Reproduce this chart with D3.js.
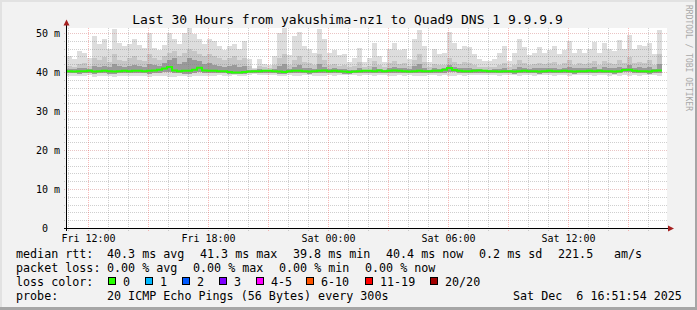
<!DOCTYPE html>
<html><head><meta charset="utf-8">
<script src="https://cdn.jsdelivr.net/npm/d3@7"></script>
<style>
html,body{margin:0;padding:0;background:#f2f2f2;}
svg{display:block;}
text{font-family:"DejaVu Sans Mono",monospace;white-space:pre;}
</style></head><body>
<svg id="c" width="697" height="310" xml:space="preserve"></svg>
<script>
const title = "Last 30 Hours from yakushima-nz1 to Quad9 DNS 1 9.9.9.9";
const startTime = new Date(2025, 11, 5, 10, 56);
const endTime = new Date(2025, 11, 6, 16, 56);
const stepMinutes = 15;
const yTicks = [0, 10, 20, 30, 40, 50];

// median rtt (ms) per 15-minute column
const median = [
 40.2,40.1,40.2,40.2,40.3,40.1,40.2,40.3,40.2,40.1,
 40.2,40.3,40.2,40.3,40.3,40.2,40.3,40.4,40.6,40.9,
 41.3,40.4,40.2,40.3,40.3,40.6,41.1,40.4,40.3,40.3,
 40.2,40.2,40.0,39.9,39.9,40.0,40.1,40.2,40.2,40.3,
 40.3,40.2,40.1,40.0,40.2,40.3,40.3,40.2,40.1,40.2,
 40.3,40.4,40.2,40.3,40.2,40.1,40.0,40.1,40.2,40.3,
 40.3,40.2,40.4,40.2,40.3,40.4,40.3,40.2,40.1,40.2,
 40.3,40.2,40.2,40.3,40.3,40.6,41.0,40.5,40.3,40.2,
 40.2,40.3,40.4,40.3,40.2,40.2,40.1,40.2,40.2,40.1,
 40.2,40.3,40.2,40.2,40.1,40.2,40.3,40.2,40.2,40.3,
 40.2,40.1,40.2,40.2,40.3,40.2,40.3,40.2,40.2,40.1,
 40.2,40.5,40.6,40.3,40.2,40.2,40.1,40.3,40.4
];
// slowest ping
const pMax = [
 44.1,43.3,45.4,44.9,43.6,49.2,47.2,48.4,45.8,51.0,
 47.5,46.6,47.2,48.4,47.0,46.2,50.1,46.2,45.7,47.0,
 50.0,48.4,47.2,50.0,51.3,49.7,48.4,47.2,48.5,48.0,
 46.7,45.6,46.7,47.2,45.9,48.0,43.3,41.1,43.3,42.1,
 41.7,44.0,50.0,51.2,44.3,49.3,50.3,46.6,45.9,44.8,
 51.0,48.4,44.8,45.6,44.3,44.6,42.5,43.6,46.2,42.5,
 43.6,47.5,44.2,42.5,45.9,47.5,45.6,45.9,43.3,48.4,
 50.8,46.6,42.5,45.9,44.6,45.0,50.3,47.5,45.9,46.6,
 46.3,44.6,43.3,42.8,42.9,43.3,45.0,46.6,42.9,45.0,
 48.4,46.3,44.3,45.0,46.3,45.0,45.6,46.6,44.6,45.6,
 48.0,45.0,45.9,45.0,45.9,47.8,45.0,47.5,46.0,45.5,
 48.2,46.0,49.5,46.0,47.0,46.6,47.5,44.5,50.8
];
// ~90th percentile ping
const p90 = [
 41.5,41.3,42.0,42.2,41.6,43.5,43.0,43.8,42.5,44.5,
 43.0,42.8,43.5,44.0,43.2,42.8,44.5,43.5,43.0,44.0,
 45.0,45.5,44.0,45.0,46.0,45.5,44.5,44.0,44.5,44.0,
 43.5,43.0,43.5,44.0,43.0,43.5,41.5,40.8,41.6,41.2,
 41.0,41.8,43.5,44.5,41.8,43.0,44.0,42.5,42.2,41.8,
 44.5,43.0,41.8,42.0,41.6,41.8,41.2,41.5,42.5,41.2,
 41.5,42.8,41.7,41.2,42.2,42.8,42.0,42.2,41.5,43.2,
 44.5,42.5,41.2,42.0,41.8,41.8,43.5,42.5,42.0,42.5,
 42.3,41.8,41.4,41.3,41.3,41.4,41.8,42.3,41.3,41.8,
 43.0,42.3,41.7,42.0,42.4,42.0,42.2,42.5,41.8,42.2,
 43.0,41.9,42.3,42.0,42.3,42.8,41.9,42.8,42.2,42.0,
 43.0,42.2,43.8,42.2,42.6,42.4,43.0,41.8,44.5
];
// ~75th percentile ping
const p75 = [
 40.8,40.7,41.0,41.0,40.8,41.5,41.3,41.6,41.2,42.0,
 41.5,41.3,41.6,41.8,41.5,41.3,42.0,41.8,41.6,42.2,
 43.0,43.5,42.0,42.5,43.5,43.0,42.8,42.0,42.2,41.8,
 41.6,41.3,41.5,41.7,41.2,41.5,40.6,40.4,40.7,40.5,
 40.5,40.8,41.5,42.0,40.8,41.3,41.8,41.0,40.9,40.8,
 42.0,41.3,40.8,40.9,40.7,40.8,40.5,40.6,41.0,40.5,
 40.6,41.2,40.8,40.6,40.9,41.3,41.0,41.0,40.7,41.5,
 42.0,41.1,40.6,41.0,40.8,40.9,41.8,41.4,41.0,41.1,
 41.0,40.8,40.7,40.6,40.6,40.7,40.8,41.0,40.6,40.8,
 41.3,41.0,40.8,40.9,41.0,40.9,41.0,41.1,40.8,41.0,
 41.4,40.9,41.0,40.9,41.0,41.2,40.8,41.2,41.0,40.9,
 41.3,41.0,41.8,41.0,41.2,41.1,41.4,40.8,42.0
];
// ~25th percentile ping
const pLow = [
 39.7,39.7,39.6,39.7,39.8,39.6,39.7,39.8,39.6,39.6,
 39.7,39.8,39.7,39.7,39.8,39.7,39.6,39.8,39.8,39.9,
 40.0,39.7,39.7,39.6,39.6,39.8,39.9,39.8,39.7,39.8,
 39.7,39.7,39.6,39.5,39.5,39.6,39.7,39.8,39.8,39.8,
 39.8,39.7,39.6,39.5,39.7,39.7,39.8,39.7,39.6,39.7,
 39.7,39.8,39.7,39.8,39.7,39.6,39.6,39.7,39.7,39.8,
 39.8,39.7,39.8,39.7,39.8,39.8,39.8,39.7,39.7,39.7,
 39.8,39.7,39.7,39.8,39.7,39.8,39.9,39.9,39.8,39.7,
 39.7,39.7,39.8,39.8,39.8,39.7,39.7,39.7,39.7,39.6,
 39.7,39.8,39.7,39.7,39.6,39.7,39.8,39.7,39.7,39.8,
 39.7,39.6,39.7,39.7,39.8,39.7,39.8,39.7,39.7,39.6,
 39.7,39.9,39.9,39.8,39.7,39.7,39.6,39.8,39.8
];
// fastest ping
const pMin = [
 39.1,39.0,38.9,39.1,39.2,38.8,39.0,39.1,38.9,38.8,
 39.0,39.1,38.9,39.0,39.1,39.0,38.8,39.0,39.1,38.9,
 38.7,38.8,39.0,38.9,38.8,38.9,39.0,39.1,39.0,39.1,
 39.2,39.1,39.0,39.2,39.1,39.0,39.3,39.4,39.3,39.2,
 39.3,39.2,39.0,38.9,39.2,39.0,39.1,39.2,39.3,39.1,
 38.9,39.0,39.2,39.1,39.3,39.2,39.3,39.2,39.0,39.3,
 39.2,39.1,39.3,39.2,39.1,39.0,39.2,39.1,39.3,39.0,
 38.9,39.1,39.3,39.2,39.1,39.2,39.0,39.1,39.2,39.1,
 39.2,39.3,39.2,39.3,39.2,39.3,39.1,39.2,39.3,39.2,
 39.0,39.2,39.3,39.1,39.2,39.3,39.2,39.1,39.3,39.2,
 39.1,39.3,39.2,39.3,39.2,39.1,39.3,39.2,39.1,39.2,
 39.1,39.2,39.0,39.2,39.1,39.3,39.2,39.3,39.0
];

const legendRtt = ["median rtt:", "40.3 ms avg", "41.3 ms max", "39.8 ms min", "40.4 ms now", "0.2 ms sd", "221.5", "am/s"];
const legendLoss = ["packet loss:", "0.00 % avg", "0.00 % max", "0.00 % min", "0.00 % now"];
const lossLabels = ["0", "1", "2", "3", "4-5", "6-10", "11-19", "20/20"];
const lossColors = ["#26ff00", "#00b8ff", "#0059ff", "#7e00ff", "#ff00ff", "#ff5500", "#ff0000", "#a10000"];
const probeText = ["probe:", "20 ICMP Echo Pings (56 Bytes) every 300s", "Sat Dec  6 16:51:54 2025"];
const watermark = "RRDTOOL / TOBI OETIKER";

const svg = d3.select("#c");
const W = 697, H = 310;
const L = 67, R = 667, T = 28, B = 228;

// background and 3D border
svg.append("rect").attr("width", W).attr("height", H).attr("fill", "#f2f2f2");
svg.append("rect").attr("x",0).attr("y",0).attr("width",W).attr("height",2).attr("fill","#e2e2e2");
svg.append("rect").attr("x",0).attr("y",0).attr("width",2).attr("height",H).attr("fill","#e2e2e2");
svg.append("rect").attr("x",0).attr("y",H-3).attr("width",W).attr("height",3).attr("fill","#a6a6a6");
svg.append("rect").attr("x",W-2).attr("y",0).attr("width",2).attr("height",H).attr("fill","#a6a6a6");

const x = d3.scaleTime().domain([startTime, endTime]).range([L, R]);
const y = d3.scaleLinear().domain([0, 200/3.9]).range([B, T]);

svg.append("rect").attr("x", L).attr("y", T).attr("width", R - L).attr("height", B - T).attr("fill", "#ffffff");

const colTime = k => new Date(+startTime + k * stepMinutes * 60000);

// smoke
const bands = [
  {lo: pMin, hi: pMax, color: "#dddddd"},
  {lo: pLow, hi: p90, color: "#c6c6c6"},
  {lo: pLow, hi: p75, color: "#9a9a9a"}
];
const gSmoke = svg.append("g").attr("shape-rendering", "crispEdges");
bands.forEach(b => {
  gSmoke.selectAll(null).data(median.map((m, k) => k)).enter().append("rect")
    .attr("x", k => x(colTime(k)))
    .attr("width", k => x(colTime(k + 1)) - x(colTime(k)))
    .attr("y", k => y(b.hi[k]))
    .attr("height", k => y(b.lo[k]) - y(b.hi[k]))
    .attr("fill", b.color);
});

// grid
const gGrid = svg.append("g").attr("shape-rendering", "crispEdges");
const minorCol = "rgba(128,128,128,0.38)", majorCol = "rgba(240,70,70,0.38)";
d3.range(2, 51, 2).forEach(v => {
  const yy = Math.round(y(v)) + 0.5;
  gGrid.append("line").attr("x1", 64).attr("x2", R).attr("y1", yy).attr("y2", yy)
    .attr("stroke", v % 10 === 0 ? "rgba(200,100,100,0.38)" : minorCol).attr("stroke-dasharray", "1,1");
});
d3.timeHour.range(startTime, endTime).forEach(t => {
  const xx = Math.round(x(t)) + 0.5;
  const major = t.getHours() % 3 === 0;
  gGrid.append("line").attr("x1", xx).attr("x2", xx).attr("y1", T).attr("y2", B + 3)
    .attr("stroke", major ? majorCol : minorCol).attr("stroke-dasharray", "1,1");
});

// median line
const medPts = median.map((v, k) => [colTime(k), v]);
medPts.push([colTime(median.length), median[median.length - 1]]);
svg.append("path").datum(medPts)
  .attr("d", d3.line().x(d => x(d[0])).y(d => y(d[1])).curve(d3.curveStepAfter))
  .attr("fill", "none").attr("stroke", lossColors[0]).attr("stroke-width", 2);

// axes
svg.append("line").attr("x1", 64).attr("x2", 670).attr("y1", B + 0.5).attr("y2", B + 0.5).attr("stroke", "#000");
svg.append("line").attr("x1", L - 0.5).attr("x2", L - 0.5).attr("y1", B + 3).attr("y2", 23).attr("stroke", "#000");
svg.append("path").attr("d", "M668,225.5 L674,228.5 L668,231.5 Z").attr("fill", "#a52020");
svg.append("path").attr("d", "M63.5,25.5 L66.5,19.5 L69.5,25.5 Z").attr("fill", "#a52020");

// y labels
yTicks.forEach(v => {
  const s = String(v).padStart(2, " ") + (v ? " m" : "");
  svg.append("text").attr("x", 36).attr("y", y(v) + 3.6).attr("font-size", 10).attr("fill", "#000").text(s);
});
// x labels
d3.timeHour.range(startTime, endTime).filter(t => t.getHours() % 6 === 0).forEach(t => {
  svg.append("text").attr("x", Math.round(x(t)) + 0.5).attr("y", 241.5).attr("text-anchor", "middle")
    .attr("font-size", 10).attr("fill", "#000").text(d3.timeFormat("%a %H:%M")(t));
});

// title
svg.append("text").attr("x", 347.5).attr("y", 23.5).attr("text-anchor", "middle").attr("font-size", 13).attr("fill", "#000").text(title);

// watermark
svg.append("text").attr("transform", "translate(685.5,5) rotate(90)").attr("font-size", 8).attr("fill", "#a8a8a8").text(watermark);

// legend
const fs = 11.7;
const rttX = [16, 107, 200, 293, 386, 479, 558, 614];
legendRtt.forEach((s, i) => svg.append("text").attr("x", rttX[i]).attr("y", 257.5).attr("font-size", fs).text(s));
const lossX = [16, 107, 193, 279, 365];
legendLoss.forEach((s, i) => svg.append("text").attr("x", lossX[i]).attr("y", 271.5).attr("font-size", fs).text(s));
svg.append("text").attr("x", 16).attr("y", 285.5).attr("font-size", fs).text("loss color:");
const boxX = [108.5, 145.5, 182.5, 219.5, 256.5, 306.5, 365.5, 430.5];
lossLabels.forEach((s, i) => {
  svg.append("rect").attr("x", boxX[i]).attr("y", 277.5).attr("width", 7).attr("height", 7)
    .attr("fill", lossColors[i]).attr("stroke", "#000").attr("stroke-width", 1);
  svg.append("text").attr("x", boxX[i] + 14.5).attr("y", 285.5).attr("font-size", fs).text(s);
});
const probeX = [16, 107, 513];
probeText.forEach((s, i) => svg.append("text").attr("x", probeX[i]).attr("y", 299.5).attr("font-size", fs).text(s));
</script>
</body></html>
